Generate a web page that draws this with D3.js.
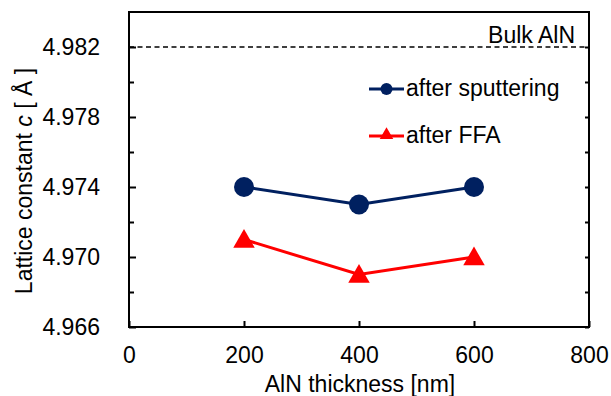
<!DOCTYPE html>
<html>
<head>
<meta charset="utf-8">
<script src="https://cdn.jsdelivr.net/npm/d3@7"></script>
<style>
  html, body { margin: 0; padding: 0; background: #fff; }
  svg { display: block; font-family: Arial, "Liberation Sans", sans-serif; }
</style>
</head>
<body>
<div id="chart"></div>
<script>
// data
const thickness = [200, 400, 600];
const afterSputtering = [4.974, 4.973, 4.974];
const afterFFA = [4.971, 4.969, 4.970];
const bulkAlN = 4.982;
const xTicks = [0, 200, 400, 600, 800];
const yLabelTicks = [4.966, 4.970, 4.974, 4.978, 4.982];
const yMinorTicks = [4.968, 4.972, 4.976, 4.980];

const width = 611, height = 396;
const margin = { top: 12, right: 22, bottom: 69, left: 129 };
const navy = '#002060', red = '#ff0000';
const fs = 23;

const svg = d3.select('#chart').append('svg')
  .attr('width', width)
  .attr('height', height);

const x = d3.scaleLinear().domain([0, 800]).range([margin.left, width - margin.right]);
const y = d3.scaleLinear().domain([4.966, 4.984]).range([height - margin.bottom, margin.top]);

// ticks on left (inward, labelled) and right (inward)
const yAxis = d3.axisLeft(y).tickValues(yLabelTicks).tickFormat(d3.format('.3f'))
  .tickSizeInner(-7).tickSizeOuter(0).tickPadding(29);
const gy = svg.append('g').attr('transform', `translate(${margin.left},0)`).call(yAxis);
gy.select('.domain').remove();
gy.selectAll('text').attr('font-size', fs).attr('fill', '#000');
gy.selectAll('line').attr('stroke', '#000').attr('stroke-width', 2);

const gyMinor = svg.append('g').attr('transform', `translate(${margin.left},0)`)
  .call(d3.axisLeft(y).tickValues(yMinorTicks).tickFormat('').tickSizeInner(-5).tickSizeOuter(0));
gyMinor.select('.domain').remove();
gyMinor.selectAll('line').attr('stroke', '#000').attr('stroke-width', 2);

const gyRight = svg.append('g').attr('transform', `translate(${width - margin.right},0)`)
  .call(d3.axisRight(y).tickValues(yLabelTicks.concat(yMinorTicks)).tickFormat('').tickSizeInner(-4).tickSizeOuter(0));
gyRight.select('.domain').remove();
gyRight.selectAll('line').attr('stroke', '#000').attr('stroke-width', 2);

const xAxis = d3.axisBottom(x).tickValues(xTicks).tickFormat(d3.format('d'))
  .tickSizeInner(-6).tickSizeOuter(0).tickPadding(20);
const gx = svg.append('g').attr('transform', `translate(0,${height - margin.bottom})`).call(xAxis);
gx.select('.domain').remove();
gx.selectAll('text').attr('font-size', fs).attr('fill', '#000');
gx.selectAll('line').attr('stroke', '#000').attr('stroke-width', 2);

// plot frame
svg.append('rect')
  .attr('x', x(0)).attr('y', y(4.984))
  .attr('width', x(800) - x(0)).attr('height', y(4.966) - y(4.984))
  .attr('fill', 'none').attr('stroke', '#000').attr('stroke-width', 2);

// bulk reference line
svg.append('line')
  .attr('x1', x(0)).attr('x2', x(800))
  .attr('y1', y(bulkAlN)).attr('y2', y(bulkAlN))
  .attr('stroke', '#000').attr('stroke-width', 1.6).attr('stroke-dasharray', '5,3.5');
svg.append('text')
  .attr('x', x(800) - 14).attr('y', y(bulkAlN) - 4)
  .attr('text-anchor', 'end').attr('font-size', fs)
  .text('Bulk AlN');

const line = d3.line().x(d => x(d[0])).y(d => y(d[1]));
const tri = d3.symbol().type(d3.symbolTriangle);

// after sputtering
const sp = thickness.map((t, i) => [t, afterSputtering[i]]);
svg.append('path').datum(sp).attr('d', line)
  .attr('fill', 'none').attr('stroke', navy).attr('stroke-width', 3);
svg.selectAll('.c').data(sp).join('circle')
  .attr('cx', d => x(d[0])).attr('cy', d => y(d[1])).attr('r', 10)
  .attr('fill', navy);

// after FFA
const ffa = thickness.map((t, i) => [t, afterFFA[i]]);
svg.append('path').datum(ffa).attr('d', line)
  .attr('fill', 'none').attr('stroke', red).attr('stroke-width', 3);
svg.selectAll('.t').data(ffa).join('path')
  .attr('d', tri.size(200))
  .attr('transform', d => `translate(${x(d[0])},${y(d[1]) + 2})`)
  .attr('fill', red);

// legend
const legend = [
  { label: 'after sputtering', color: navy, kind: 'circle', ly: 89 },
  { label: 'after FFA', color: red, kind: 'triangle', ly: 136 },
];
const lg = svg.append('g');
legend.forEach(l => {
  lg.append('line').attr('x1', 369).attr('x2', 404).attr('y1', l.ly).attr('y2', l.ly)
    .attr('stroke', l.color).attr('stroke-width', 3);
  if (l.kind === 'circle') {
    lg.append('circle').attr('cx', 386.5).attr('cy', l.ly).attr('r', 6).attr('fill', l.color);
  } else {
    lg.append('path').attr('d', d3.symbol().type(d3.symbolTriangle).size(80)())
      .attr('transform', `translate(386.5,${l.ly - 1})`).attr('fill', l.color);
  }
  lg.append('text').attr('x', 406).attr('y', l.ly + 7).attr('font-size', fs).text(l.label);
});

// axis titles
svg.append('text')
  .attr('x', 360).attr('y', 392)
  .attr('text-anchor', 'middle').attr('font-size', fs)
  .text('AlN thickness [nm]');

const yt = svg.append('text')
  .attr('transform', `translate(32,181) rotate(-90)`)
  .attr('text-anchor', 'middle').attr('font-size', fs);
yt.append('tspan').text('Lattice constant ');
yt.append('tspan').attr('font-style', 'italic').text('c');
yt.append('tspan').text(' [ Å ]');
</script>
</body>
</html>
